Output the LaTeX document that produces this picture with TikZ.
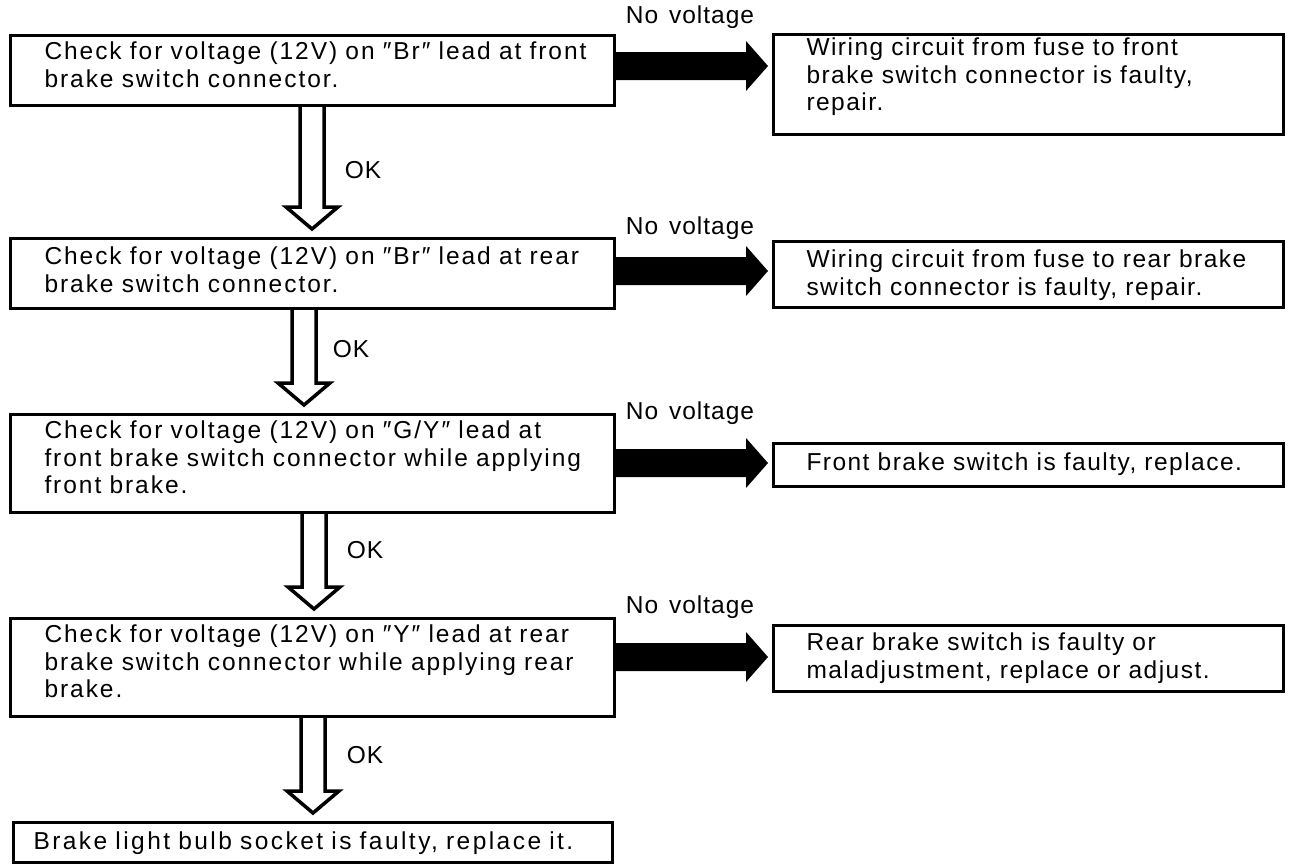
\documentclass[tikz,border=0pt]{standalone}
\usepackage{fontspec}
\setmainfont{Liberation Sans}[LetterSpace=6,WordSpace=1.4]
\newfontfamily\lfont{Liberation Sans}[LetterSpace=8,WordSpace=1.4]
\newfontfamily\rfont{Liberation Sans}[LetterSpace=6,WordSpace=1.4]
\newfontfamily\bfont{Liberation Sans}[LetterSpace=10,WordSpace=1.4]
\newfontfamily\nfont{Liberation Sans}[LetterSpace=4,WordSpace=1.4]
\usetikzlibrary{calc}
\newcommand\fs{\fontsize{24.5}{27.5}\selectfont}
\newcommand\qq{\char"2033\relax}
% #1 from node, #2 to node, #3 row coordinate
\newcommand\fatarrow[3]{%
  \fill ($(#1.east |- #3)+(0,-14)$) -- ($(#2.west |- #3)+(-26,-14)$) -- ++(0,-11)
    -- ($(#2.west |- #3)+(-4,0)$) -- ($(#2.west |- #3)+(-26,25)$) -- ++(0,-11)
    -- ($(#1.east |- #3)+(0,14)$) -- cycle;}
% #1 from node, #2 to node, #3 column coordinate
\newcommand\hollowarrow[3]{%
  \draw[hollow] ($(#1.south -| #3)+(-12,0)$) -- ($(#2.north -| #3)+(-12,-30)$) -- ++(-14,0)
    -- ($(#2.north -| #3)+(0,-8)$) -- ($(#2.north -| #3)+(26,-30)$) -- ++(-14,0)
    -- ($(#1.south -| #3)+(12,0)$);}
\begin{document}
\begin{tikzpicture}[x=1pt,y=-1pt,
  lbox/.style={draw, line width=3pt, anchor=north west, align=left, text width=536pt,
    inner xsep=34pt, inner ysep=0pt, font=\lfont\fs},
  rbox/.style={draw, line width=3pt, anchor=north west, align=left, text width=444pt,
    inner xsep=33pt, inner ysep=0pt, font=\rfont\fs},
  hollow/.style={line width=3.5pt, line join=miter},
  lbl/.style={font=\nfont\fs, inner sep=0pt}]
\useasboundingbox (0,0) rectangle (1289,863);

% left column
\node[lbox, text height=24pt, text depth=46pt] (b1) at (9,34) {\mbox{Check for voltage (12V) on \qq Br\qq\ lead at front}\\\mbox{brake switch connector.}};
\node[lbox, text height=26pt, text depth=44pt] (b2) at (9,237) {\mbox{Check for voltage (12V) on \qq Br\qq\ lead at rear}\\\mbox{brake switch connector.}};
\node[lbox, text height=24pt, text depth=74pt] (b3) at (9,413) {\mbox{Check for voltage (12V) on \qq G/Y\qq\ lead at}\\\mbox{front brake switch connector while applying}\\\mbox{front brake.}};
\node[lbox, text height=24pt, text depth=74pt] (b4) at (9,617) {\mbox{Check for voltage (12V) on \qq Y\qq\ lead at rear}\\\mbox{brake switch connector while applying rear}\\\mbox{brake.}};
\node[lbox, text height=27pt, text depth=13pt, text width=559pt, inner xsep=20pt, font=\bfont\fs] (b5) at (12,821) {\mbox{Brake light bulb socket is faulty, replace it.}};

% right column
\node[rbox, text height=21pt, text depth=79pt] (r1) at (772,33) {\mbox{Wiring circuit from fuse to front}\\\mbox{brake switch connector is faulty,}\\\mbox{repair.}};
\node[rbox, text height=26pt, text depth=40pt] (r2) at (772,240) {\mbox{Wiring circuit from fuse to rear brake}\\\mbox{switch connector is faulty, repair.}};
\node[rbox, text height=27pt, text depth=16pt] (r3) at (772,442) {\mbox{Front brake switch is faulty, replace.}};
\node[rbox, text height=25pt, text depth=41pt] (r4) at (772,624) {\mbox{Rear brake switch is faulty or}\\\mbox{maladjustment, replace or adjust.}};

% rows and columns for connectors
\coordinate (y1) at (0,66);
\coordinate (y2) at (0,271);
\coordinate (y3) at (0,463);
\coordinate (y4) at (0,657);
\coordinate (c1) at (312,0);
\coordinate (c2) at (304,0);
\coordinate (c3) at (314,0);
\coordinate (c4) at (313,0);

\fatarrow{b1}{r1}{y1}
\fatarrow{b2}{r2}{y2}
\fatarrow{b3}{r3}{y3}
\fatarrow{b4}{r4}{y4}

\hollowarrow{b1}{b2}{c1}
\hollowarrow{b2}{b3}{c2}
\hollowarrow{b3}{b4}{c3}
\hollowarrow{b4}{b5}{c4}

% labels
\node[lbl] (n1) at (690,17) {No voltage};
\node[lbl] (n2) at (690,228) {No voltage};
\node[lbl] (n3) at (690,413) {No voltage};
\node[lbl] (n4) at (690,607) {No voltage};
\node[lbl] (k1) at (363,170) {OK};
\node[lbl] (k2) at (351,349) {OK};
\node[lbl] (k3) at (365,550) {OK};
\node[lbl] (k4) at (365,755) {OK};
\end{tikzpicture}
\end{document}
